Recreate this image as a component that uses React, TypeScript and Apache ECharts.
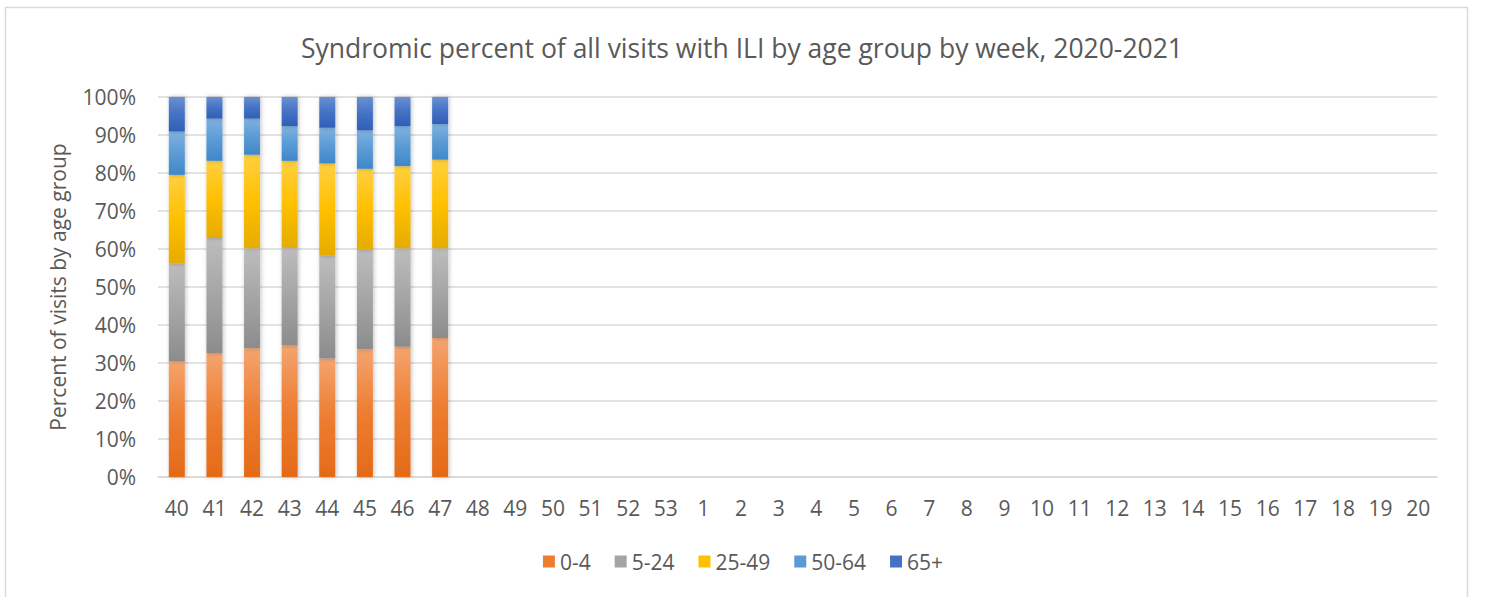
import React, { useEffect, useRef } from "react";
import * as echarts from "echarts";

const weeks = ["40","41","42","43","44","45","46","47","48","49","50","51","52","53","1","2","3","4","5","6","7","8","9","10","11","12","13","14","15","16","17","18","19","20"];
const seriesNames = ["0-4", "5-24", "25-49", "50-64", "65+"];
const age0to4 = [30.5, 32.6, 33.9, 34.6, 31.2, 33.6, 34.3, 36.6];
const age5to24 = [25.6, 30.3, 26.3, 25.9, 27.0, 26.2, 25.9, 23.6];
const age25to49 = [23.4, 20.3, 24.6, 22.7, 24.3, 21.3, 21.6, 23.3];
const age50to64 = [11.4, 11.1, 9.5, 9.1, 9.4, 10.1, 10.5, 9.4];
const age65plus = [9.1, 5.7, 5.7, 7.7, 8.1, 8.8, 7.7, 7.1];
const yTicks = [0, 10, 20, 30, 40, 50, 60, 70, 80, 90, 100];

const colors = ["#ED7D31", "#A5A5A5", "#FFC000", "#5B9BD5", "#4472C4"];
const lightColors = ["#F4A46F", "#BDBDBD", "#FFCF40", "#7FB2E0", "#6A8FD3"];
const darkColors = ["#E46A17", "#8C8C8C", "#E5AC00", "#3F87C9", "#2F5FB8"];

export default function App() {
  const ref = useRef<HTMLDivElement>(null);
  useEffect(() => {
    document.body.style.margin = "0";
    const chart = echarts.init(ref.current!, undefined, { renderer: "svg" });
    const data = [age0to4, age5to24, age25to49, age50to64, age65plus];
    const font = "'Open Sans', 'Noto Sans', sans-serif";
    chart.setOption({
      animation: false,
      backgroundColor: "#ffffff",
      title: {
        text: "Syndromic percent of all visits with ILI by age group by week, 2020-2021",
        left: 737,
        textAlign: "center",
        top: 29,
        textStyle: { fontFamily: font, fontSize: 26.5, fontWeight: "normal", color: "#595959" },
      },
      graphic: [
        {
          type: "rect",
          shape: { x: 5.5, y: 7.5, width: 1462, height: 600 },
          style: { fill: "none", stroke: "#D9D9D9", lineWidth: 1.5 },
          silent: true,
        },
      ],
      legend: {
        bottom: 20,
        left: "center",
        itemWidth: 12,
        itemHeight: 12,
        itemGap: 24,
        icon: "rect",
        textStyle: { fontFamily: font, fontSize: 21, color: "#595959" },
        data: seriesNames.map((n, i) => ({ name: n, itemStyle: { color: colors[i] } })),
      },
      grid: { left: 158, right: 49, top: 97, bottom: 120 },
      xAxis: {
        type: "category",
        data: weeks,
        axisTick: { show: false },
        axisLine: { lineStyle: { color: "#D9D9D9", width: 1.5 } },
        axisLabel: { fontFamily: font, fontSize: 21, color: "#595959", margin: 20, interval: 0 },
      },
      yAxis: {
        type: "value",
        min: 0,
        max: 100,
        interval: 10,
        name: "Percent of visits by age group",
        nameLocation: "middle",
        nameGap: 90,
        nameTextStyle: { fontFamily: font, fontSize: 21, color: "#595959" },
        axisLabel: {
          fontFamily: font,
          fontSize: 21,
          color: "#595959",
          margin: 22,
          formatter: (v: number) => (yTicks.includes(v) ? v + "%" : ""),
        },
        splitLine: { lineStyle: { color: "#D9D9D9", width: 1.5 } },
        axisLine: { show: false },
        axisTick: { show: false },
      },
      series: seriesNames.map((name, i) => ({
        name,
        type: "bar",
        stack: "total",
        barWidth: 16,
        data: data[i],
        itemStyle: {
          color: new echarts.graphic.LinearGradient(0, 0, 0, 1, [
            { offset: 0, color: lightColors[i] },
            { offset: 0.5, color: colors[i] },
            { offset: 1, color: darkColors[i] },
          ]),
          shadowColor: "rgba(0,0,0,0.25)",
          shadowBlur: 4,
          shadowOffsetX: 1,
        },
      })),
    });
    return () => chart.dispose();
  }, []);
  return <div ref={ref} style={{ width: 1486, height: 597 }} />;
}
